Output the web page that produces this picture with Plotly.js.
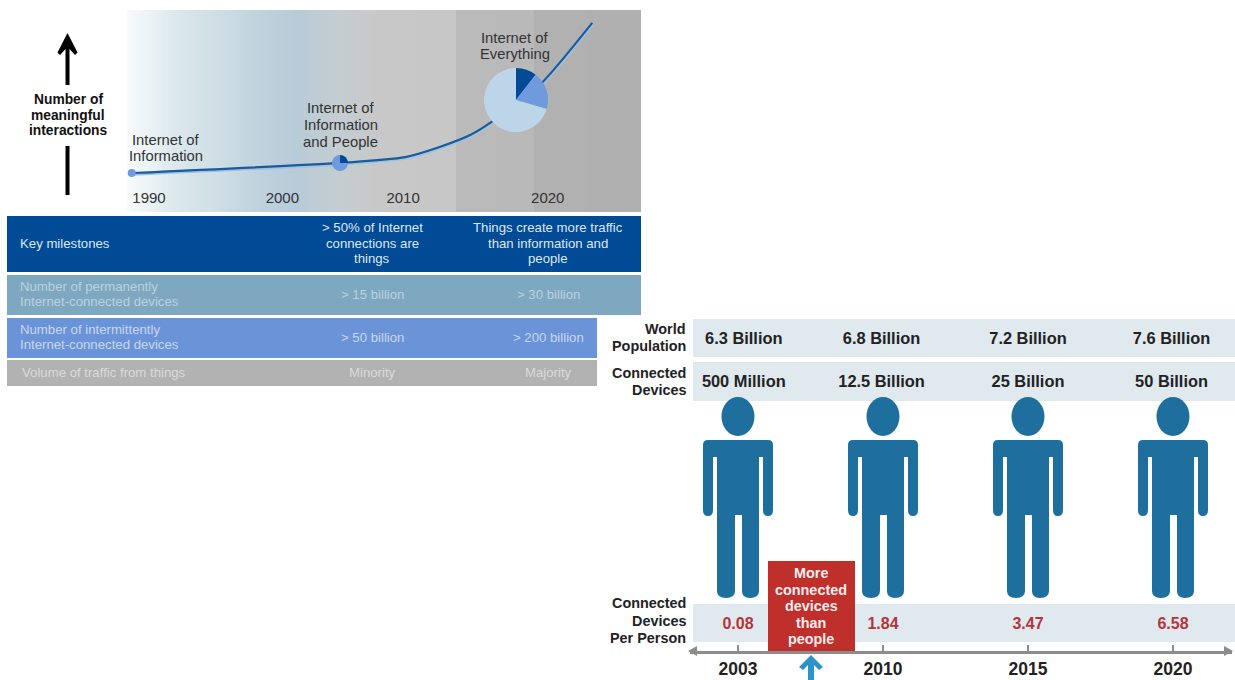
<!DOCTYPE html>
<html>
<head>
<meta charset="utf-8">
<script src="https://cdn.plot.ly/plotly-3.0.1.min.js"></script>
<style>html,body{margin:0;padding:0;background:#fff}#chart{width:1235px;height:680px}</style>
</head>
<body>
<div id="chart"></div>
<script>
// Timeline: growth of meaningful interactions
const curveYears = [1988.7, 2004.4, 2009.3, 2011.9, 2014.2, 2015.9, 2019.6, 2023.4];
const curveValues = [19.3, 24.3, 27.2, 32.2, 38.1, 45, 63.9, 93.6];
const timelineTickYears = [1990, 2000.05, 2009.15, 2020.05];
const timelineTickLabels = ['1990', '2000', '2010', '2020'];
const everythingShares = [10.5, 19, 70.5];
const peopleShares = [25, 75];

// Milestones table
const tableLabels = ['Key milestones', 'Number of permanently<br>Internet-connected devices',
  'Number of intermittently<br>Internet-connected devices', 'Volume of traffic from things'];
const tableCol2030 = ['&gt; 50% of Internet<br>connections are<br>things', '&gt; 15 billion', '&gt; 50 billion', 'Minority'];
const tableColLater = ['Things create more traffic<br>than information and<br>people', '&gt; 30 billion', '&gt; 200 billion', 'Majority'];

// Population panel
const panelYears = ['2003', '2010', '2015', '2020'];
const panelSlots = [0, 1, 2, 3];
const populationLabels = ['6.3 Billion', '6.8 Billion', '7.2 Billion', '7.6 Billion'];
const deviceLabels = ['500 Million', '12.5 Billion', '25 Billion', '50 Billion'];
const devicesPerPerson = [0.08, 1.84, 3.47, 6.58];

const W = 1235, H = 680;
const FONT = '"Liberation Sans", Arial, sans-serif';
const px = x => x / W;
const py = y => 1 - y / H;

// Horizontal position of a pixel on the timeline axis
const yearAt = x => 1990 + (x - 149) / 13.27;

// Background wash behind the timeline, as [pixel, colour]
const washStops = [[127, '#f8fafa'], [140, '#f0f6f8'], [175, '#dce8ec'], [215, '#cfdfe5'], [262, '#bfd1dc'],
  [295, '#b8cbd8'], [340, '#c5cdd0'], [375, '#c8c8c8'], [455, '#c7c7c7'], [455.5, '#bababa'],
  [533, '#b9b9b9'], [533.5, '#b1b1b1'], [641, '#b0b0b0']];
const washScale = washStops.map(s => [(s[0] - 127) / (641 - 127), s[1]]);

const PALE = '#bcd5e8', MID = '#6f9ade', DARK = '#004a96';

const traces = [
  {
    type: 'heatmap', x: [yearAt(127), yearAt(641)], y: [0, 100], z: [[0, 1], [0, 1]], zmin: 0, zmax: 1,
    zsmooth: 'best', colorscale: washScale, showscale: false, hoverinfo: 'skip', xaxis: 'x', yaxis: 'y'
  },
  {
    type: 'scatter', mode: 'lines', x: curveYears, y: curveValues.map(v => v - 0.5), xaxis: 'x', yaxis: 'y',
    line: { color: '#9cc3e6', width: 3.5, shape: 'spline', smoothing: 0.6 }, hoverinfo: 'skip'
  },
  {
    type: 'scatter', mode: 'lines', x: curveYears, y: curveValues, xaxis: 'x', yaxis: 'y',
    line: { color: '#1d5a98', width: 2.2, shape: 'spline', smoothing: 0.6 }
  },
  {
    type: 'scatter', mode: 'markers', x: curveYears.slice(0, 1), y: curveValues.slice(0, 1), xaxis: 'x', yaxis: 'y',
    marker: { color: MID, size: 8 }
  },
  {
    type: 'pie', values: peopleShares, sort: false, direction: 'clockwise', rotation: 0, textinfo: 'none',
    marker: { colors: [DARK, MID], line: { width: 0 } },
    domain: { x: [px(332), px(348)], y: [py(171), py(155)] }
  },
  {
    type: 'pie', values: everythingShares, sort: false, direction: 'clockwise', rotation: 0, textinfo: 'none',
    marker: { colors: [DARK, MID, PALE], line: { width: 0 } },
    domain: { x: [px(484), px(548)], y: [py(132), py(68)] }
  },
  {
    type: 'scatter', mode: 'text', x: [0.04, 0.99, 2, 2.99], y: panelSlots.map(() => 339.5), text: populationLabels,
    xaxis: 'x2', yaxis: 'y2', textfont: { family: FONT, size: 16.4, color: '#222', weight: 'bold' }
  },
  {
    type: 'scatter', mode: 'text', x: [0.04, 0.99, 2, 2.99], y: panelSlots.map(() => 383), text: deviceLabels,
    xaxis: 'x2', yaxis: 'y2', textfont: { family: FONT, size: 16.4, color: '#222', weight: 'bold' }
  },
  {
    type: 'scatter', mode: 'text', x: panelSlots, y: panelSlots.map(() => 625),
    text: devicesPerPerson.map(v => v.toFixed(2)),
    xaxis: 'x2', yaxis: 'y2', textfont: { family: FONT, size: 16, color: '#b5343c', weight: 'bold' }
  }
];

const shapes = [];
const rect = (x0, y0, x1, y1, color) => shapes.push({
  type: 'rect', xref: 'paper', yref: 'paper', x0: px(x0), x1: px(x1), y0: py(y0), y1: py(y1),
  fillcolor: color, line: { width: 0 }, layer: 'below'
});
const poly = (points, color) => shapes.push({
  type: 'path', xref: 'paper', yref: 'paper', layer: 'above', fillcolor: color, line: { width: 0 },
  path: 'M' + points.map(p => px(p[0]) + ',' + py(p[1])).join('L') + 'Z'
});

// Table rows: geometry and colours
const tableRows = [
  { top: 216, bottom: 272, right: 641, fill: '#004a96', text: '#dfe8f3' },
  { top: 275, bottom: 315, right: 641, fill: '#7da8bf', text: '#b9d2de' },
  { top: 318, bottom: 358, right: 597, fill: '#6b93d8', text: '#c8d7f1' },
  { top: 360, bottom: 386, right: 597, fill: '#b2b2b2', text: '#dadada' }
];
tableRows.forEach(r => rect(7, r.top, r.right, r.bottom, r.fill));

// Pale bands behind the panel's rows
rect(693, 319, 1235, 357, '#e0e9ee');
rect(693, 362, 1235, 401, '#e0e9ee');
rect(693, 604, 1235, 642, '#e0e9ee');

// One standing figure per year, sized in pixels and anchored on the year axis at foot level
const FIGURE_PATH = 'M-35,152 Q-35,157 -30,157 L30,157 Q35,157 35,152 L35,87 Q35,81 30,81 Q25,81 25,87 L25,140 L21,140 ' +
  'L21,6 Q21,-1 12,-1 Q4,-1 4,6 L4,82 L-3,82 L-3,6 Q-3,-1 -12,-1 Q-21,-1 -21,6 L-21,140 L-25,140 L-25,87 Q-25,81 -30,81 ' +
  'Q-35,81 -35,87 Z';
panelSlots.forEach(slot => {
  shapes.push({
    type: 'path', xref: 'x2', yref: 'y2', xsizemode: 'pixel', ysizemode: 'pixel', xanchor: slot, yanchor: 597,
    path: FIGURE_PATH, fillcolor: '#1f6f9e', line: { width: 0 }, layer: 'above'
  });
  shapes.push({
    type: 'circle', xref: 'x2', yref: 'y2', xsizemode: 'pixel', ysizemode: 'pixel', xanchor: slot, yanchor: 597,
    x0: -16.5, x1: 16.5, y0: 161, y1: 200, fillcolor: '#1f6f9e', line: { width: 0 }, layer: 'above'
  });
});

// Callout box and the arrow pointing at it
shapes.push({
  type: 'rect', xref: 'paper', yref: 'paper', x0: px(768), x1: px(855), y0: py(651), y1: py(561),
  fillcolor: '#bf2f2c', line: { width: 0 }, layer: 'above'
});
poly([[811, 655], [823, 667], [819, 670], [814, 665], [814, 680], [808, 680], [808, 665], [803, 670], [799, 667]], '#2e94c8');

// Arrow heads on the panel's time axis
poly([[688, 651], [697, 646], [697, 656]], '#8c8c8c');
poly([[1233, 651], [1224, 646], [1224, 656]], '#8c8c8c');

// Vertical "interactions" arrow at the far left
poly([[65.5, 85], [65.5, 49], [60, 55], [57.5, 52.5], [67.5, 33], [77.5, 52.5], [75, 55], [69.5, 49], [69.5, 85]], '#000');
poly([[65.5, 146], [69.5, 146], [69.5, 195], [65.5, 195]], '#000');

// Multi-line labels are placed line by line so the leading stays tight at larger sizes
const annotations = [];
const note = (x, y, text, size, color, leading, opts, bold) => {
  const lines = text.split('<br>');
  lines.forEach((line, i) => annotations.push(Object.assign({
    xref: 'paper', yref: 'paper', x: px(x), y: py(y + (i - (lines.length - 1) / 2) * leading),
    text: bold ? '<b>' + line + '</b>' : line, showarrow: false, xanchor: 'center', yanchor: 'middle',
    font: { family: FONT, size, color }
  }, opts || {})));
};

note(68, 115, 'Number of<br>meaningful<br>interactions', 13.8, '#111', 15.5, null, true);
note(166, 148, 'Internet of<br>Information', 14.8, '#333', 16.5);
note(341, 125, 'Internet of<br>Information<br>and People', 14.8, '#333', 16.5);
note(515, 46, 'Internet of<br>Everything', 14.8, '#333', 16.5);

tableRows.forEach((r, i) => {
  const mid = (r.top + r.bottom) / 2 - 1;
  note(i === 3 ? 20 : 18, mid, tableLabels[i], 13.2, r.text, 14.5, { xanchor: 'left' });
  note(372, mid, tableCol2030[i], 13.2, r.text, 15);
  note(548, mid, tableColLater[i], 13.2, r.text, 15);
});

note(688, 337.5, 'World<br>Population', 14.4, '#222', 17, { xanchor: 'right' }, true);
note(688, 381, 'Connected<br>Devices', 14.4, '#222', 17, { xanchor: 'right' }, true);
note(688, 620.5, 'Connected<br>Devices<br>Per Person', 14.4, '#222', 17.5, { xanchor: 'right' }, true);
note(811, 606, 'More<br>connected<br>devices<br>than<br>people', 14.4, '#f8eeee', 16.5, null, true);

const layout = {
  width: W, height: H, margin: { l: 0, r: 0, t: 0, b: 0 }, paper_bgcolor: '#fff', plot_bgcolor: 'rgba(0,0,0,0)',
  showlegend: false, hovermode: false, shapes, annotations,
  xaxis: {
    domain: [px(127), px(641)], range: [yearAt(127), yearAt(641)], anchor: 'y', showgrid: false, zeroline: false,
    showline: false, ticks: '', tickmode: 'array', tickvals: timelineTickYears, ticktext: timelineTickLabels,
    ticklabelposition: 'inside', ticklabelstandoff: 3, tickfont: { family: FONT, size: 15, color: '#333' }
  },
  yaxis: {
    domain: [py(212), py(10)], range: [0, 100], anchor: 'x', showgrid: false, zeroline: false,
    showline: false, showticklabels: false, ticks: ''
  },
  xaxis2: {
    domain: [px(690), px(1232)], range: [-0.331, 3.407], anchor: 'y2', showgrid: false, zeroline: false,
    tickmode: 'array', tickvals: panelSlots, ticktext: panelYears,
    showline: true, linecolor: '#8c8c8c', linewidth: 3, ticks: 'inside', ticklen: 6, tickwidth: 2, tickcolor: '#8c8c8c',
    ticklabelstandoff: 0, tickfont: { family: FONT, size: 17.5, color: '#222', weight: 'bold' }
  },
  yaxis2: {
    domain: [py(651), py(310)], range: [651, 310], anchor: 'x2', showgrid: false, zeroline: false,
    showline: false, showticklabels: false, ticks: ''
  }
};

Plotly.newPlot('chart', traces, layout, { displayModeBar: false, staticPlot: true });
</script>
</body>
</html>
